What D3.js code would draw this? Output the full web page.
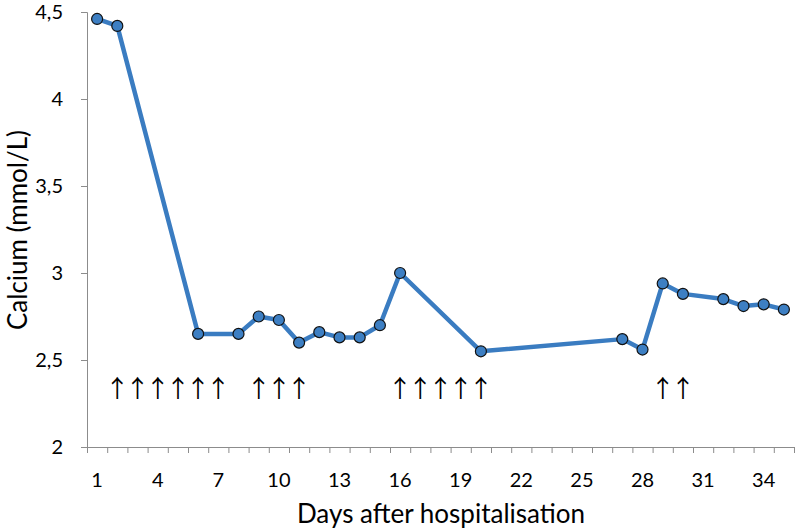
<!DOCTYPE html>
<html><head><meta charset="utf-8">
<script src="https://cdn.jsdelivr.net/npm/d3@7"></script>
<style>body{margin:0;background:#fff;} svg{display:block;} text{font-family:Lato, "Open Sans", sans-serif;}</style>
</head><body>
<svg id="c" width="800" height="532"></svg>
<script>
const days = [1,2,6,8,9,10,11,12,13,14,15,16,20,27,28,29,30,32,33,34,35];
const calcium = [4.46,4.42,2.65,2.65,2.75,2.73,2.60,2.66,2.63,2.63,2.70,3.00,2.55,2.62,2.56,2.94,2.88,2.85,2.81,2.82,2.79];
const arrowGroups = [[2,3,4,5,6,7],[9,10,11],[16,17,18,19,20],[29,30]];
const xTickLabels = [1,4,7,10,13,16,19,22,25,28,31,34];
const yTicks = [2,2.5,3,3.5,4,4.5];

const svg = d3.select("#c");
const x = d3.scaleLinear().domain([0.5,35.5]).range([87,794]);
const y = d3.scaleLinear().domain([2,4.5]).range([447,12]);
const axisColor = "#8c8c8c";
const fmt = d => String(d).replace(".", ",");

// y axis
const yAxis = svg.append("g").attr("transform","translate(87,0)")
  .call(d3.axisLeft(y).tickValues(yTicks).tickFormat(fmt).tickSize(6).tickPadding(18));
yAxis.select(".domain").attr("stroke",axisColor);
yAxis.selectAll(".tick line").attr("stroke",axisColor);
yAxis.selectAll(".tick text").attr("font-size",20).attr("fill","#000").style("font-family","Lato, sans-serif");

// x axis: tick marks at every day boundary
const xAxisG = svg.append("g").attr("transform","translate(0,447)");
xAxisG.call(d3.axisBottom(x).tickValues(d3.range(0.5,36,1)).tickFormat("").tickSize(6).tickSizeOuter(0));
xAxisG.select(".domain").attr("stroke",axisColor);
xAxisG.selectAll(".tick line").attr("stroke",axisColor);
xAxisG.selectAll(".lbl").data(xTickLabels).enter().append("text")
  .attr("class","lbl").attr("x",d=>x(d)).attr("y",40)
  .attr("text-anchor","middle").attr("font-size",20).attr("fill","#000").text(d=>d);

// axis titles
svg.append("text").attr("x",441).attr("y",523).attr("text-anchor","middle")
  .attr("font-size",26).attr("fill","#000").text("Days after hospitalisation");
svg.append("text").attr("transform","translate(27,230) rotate(-90)").attr("text-anchor","middle")
  .attr("font-size",26).attr("fill","#000").text("Calcium (mmol/L)");

// line
const pts = days.map((d,i)=>[d,calcium[i]]);
svg.append("path").datum(pts)
  .attr("d", d3.line().x(d=>x(d[0])).y(d=>y(d[1])))
  .attr("fill","none").attr("stroke","#3a7cc1").attr("stroke-width",4.5).attr("stroke-linejoin","round");
svg.selectAll("circle.pt").data(pts).enter().append("circle").attr("class","pt")
  .attr("cx",d=>x(d[0])).attr("cy",d=>y(d[1])).attr("r",5.5)
  .attr("fill","#3d7fc3").attr("stroke","#111").attr("stroke-width",1.2);

// arrows (one text per group, each glyph positioned at its day)
svg.selectAll("text.arr").data(arrowGroups).enter().append("text").attr("class","arr")
  .attr("x",g=>g.map(d=>x(d)).join(" ")).attr("y",397).attr("text-anchor","middle")
  .attr("font-size",24).attr("fill","#000").style("font-family","'Noto Sans CJK JP', sans-serif")
  .text(g=>"↑".repeat(g.length));
</script>
</body></html>
